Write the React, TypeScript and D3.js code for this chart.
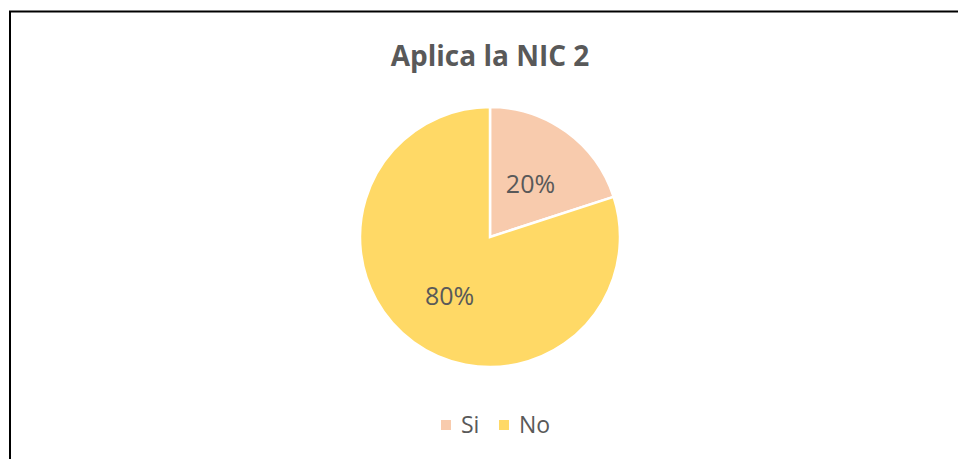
import React, { useEffect, useRef } from "react";
import * as d3 from "d3";

const categories = ["Si", "No"];
const values = [20, 80];
const colors = ["#F8CBAD", "#FFD966"];
const title = "Aplica la NIC 2";

const App = () => {
  const svgRef = useRef<SVGSVGElement>(null);

  useEffect(() => {
    const svg = d3.select(svgRef.current);
    svg.selectAll("*").remove();

    const width = 958;
    const height = 459;
    const cx = 490;
    const cy = 237;
    const radius = 130;
    const font = "'Open Sans', sans-serif";

    svg.attr("width", width).attr("height", height);

    // outer frame
    svg.append("rect")
      .attr("x", 10)
      .attr("y", 11.5)
      .attr("width", width + 10)
      .attr("height", height + 10)
      .attr("fill", "#fff")
      .attr("stroke", "#000")
      .attr("stroke-width", 2);

    svg.append("text")
      .attr("x", cx)
      .attr("y", 66)
      .attr("text-anchor", "middle")
      .attr("font-family", font)
      .attr("font-weight", "bold")
      .attr("font-size", 28)
      .attr("fill", "#595959")
      .text(title);

    const data = categories.map((c, i) => ({ name: c, value: values[i], color: colors[i] }));
    const pie = d3.pie<any>().value(d => d.value).sort(null);
    const arc = d3.arc<any>().innerRadius(0).outerRadius(radius);
    const labelArc = d3.arc<any>().innerRadius(radius * 1.06).outerRadius(0);

    const g = svg.append("g").attr("transform", `translate(${cx},${cy})`);

    g.selectAll("path")
      .data(pie(data))
      .enter()
      .append("path")
      .attr("d", arc)
      .attr("fill", d => d.data.color)
      .attr("stroke", "#fff")
      .attr("stroke-width", 2.5);

    g.selectAll("text")
      .data(pie(data))
      .enter()
      .append("text")
      .attr("transform", d => `translate(${labelArc.centroid(d)})`)
      .attr("text-anchor", "middle")
      .attr("dy", "0.48em")
      .attr("font-family", font)
      .attr("font-size", 25)
      .attr("fill", "#595959")
      .text(d => `${d.data.value}%`);

    // legend
    const legendX = [441, 499];
    const legend = svg.append("g");
    data.forEach((d, i) => {
      legend.append("rect")
        .attr("x", legendX[i])
        .attr("y", 420)
        .attr("width", 10)
        .attr("height", 10)
        .attr("fill", d.color);
      legend.append("text")
        .attr("x", legendX[i] + 20)
        .attr("y", 433)
        .attr("font-family", font)
        .attr("font-size", 23)
        .attr("fill", "#595959")
        .text(d.name);
    });
  }, []);

  return <svg ref={svgRef} style={{ position: "absolute", left: 0, top: 0 }}></svg>;
};

export default App;
